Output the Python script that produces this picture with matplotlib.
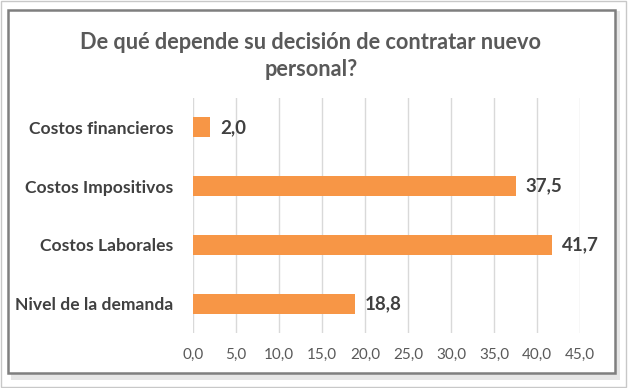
import matplotlib

matplotlib.use("Agg")
import matplotlib.pyplot as plt
from matplotlib.patches import Rectangle

# data (top to bottom as shown)
categories = ["Costos financieros", "Costos Impositivos", "Costos Laborales", "Nivel de la demanda"]
values = [2.0, 37.5, 41.7, 18.8]
x_ticks = [0, 5, 10, 15, 20, 25, 30, 35, 40, 45]

title = "De qué depende su decisión de contratar nuevo\npersonal?"
bar_color = "#F79646"
text_dark = "#404040"
text_gray = "#595959"

plt.rcParams["font.family"] = ["Lato", "DejaVu Sans"]

fig = plt.figure(figsize=(6.28, 3.88), dpi=100)
W, H = 628, 388

# frame: light outer border, soft shadow, dark inner border (behind the axes)
fig.patches.append(Rectangle((1 / W, 1 / H), 625 / W, 386 / H, transform=fig.transFigure,
                             facecolor="white", edgecolor="#c8c8c8", linewidth=1, zorder=-3))
fig.patches.append(Rectangle((11 / W, 8 / H), 609 / W, 369 / H, transform=fig.transFigure,
                             facecolor="#e6e6e6", edgecolor="none", zorder=-2))
fig.patches.append(Rectangle((8 / W, 15 / H), 607 / W, 363 / H, transform=fig.transFigure,
                             facecolor="white", edgecolor="#7f7f7f", linewidth=1.8, zorder=-1))

ax = fig.add_axes([193 / W, 1 - 333 / H, 387 / W, 235 / H])
ax.set_facecolor("none")

y_pos = list(range(len(categories)))
ax.barh(y_pos, values, height=0.34, color=bar_color, zorder=2)
for y, v in zip(y_pos, values):
    ax.annotate(f"{v:.1f}".replace(".", ","), (v, y), xytext=(7.5, 0), textcoords="offset points",
                va="center", ha="left", fontsize=13.5, fontweight="bold", color=text_dark)

ax.set_xlim(0, 45)
ax.set_ylim(len(categories) - 0.5, -0.5)
ax.set_xticks(x_ticks)
ax.set_xticklabels([f"{t:.1f}".replace(".", ",") for t in x_ticks], fontsize=11, color=text_gray)
ax.set_yticks(y_pos)
ax.set_yticklabels(categories, fontsize=12.6, fontweight="bold", color=text_dark)
ax.tick_params(length=0)
ax.tick_params(axis="x", pad=11)
ax.tick_params(axis="y", pad=14)
ax.grid(axis="x", color="#d9d9d9", linewidth=1, zorder=0)
ax.set_axisbelow(True)
for spine in ax.spines.values():
    spine.set_visible(False)

fig.text(311 / W, 1 - 56 / H, title, ha="center", va="center", fontsize=15.7, fontweight="bold",
         color=text_gray, linespacing=1.4)

fig.savefig("out.png", dpi=100)
